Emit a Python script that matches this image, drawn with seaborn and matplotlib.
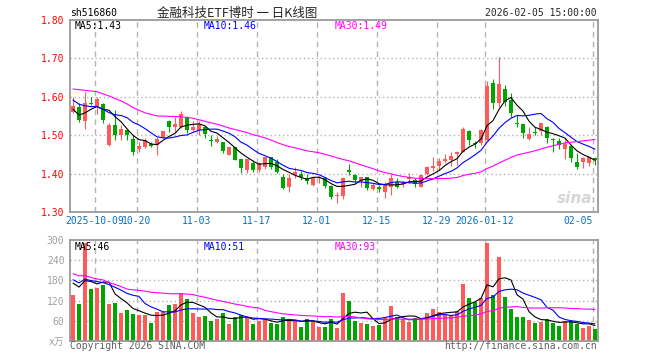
import matplotlib
matplotlib.use("Agg")
import matplotlib.pyplot as plt
import numpy as np
import pandas as pd
import seaborn as sns

# daily OHLC, 2025-09-25 .. 2026-02-05 (88 sessions)
open_ = [1.561, 1.573, 1.537, 1.584, 1.577, 1.581, 1.474, 1.527, 1.500, 1.513,
         1.490, 1.463, 1.470, 1.476, 1.474, 1.494, 1.537, 1.522, 1.522, 1.547,
         1.513, 1.513, 1.522, 1.488, 1.483, 1.481, 1.449, 1.469, 1.437, 1.409,
         1.427, 1.409, 1.416, 1.442, 1.431, 1.392, 1.366, 1.396, 1.399, 1.389,
         1.370, 1.388, 1.388, 1.369, 1.341, 1.342, 1.409, 1.396, 1.382, 1.390,
         1.359, 1.364, 1.353, 1.364, 1.379, 1.373, 1.385, 1.383, 1.366, 1.399,
         1.414, 1.420, 1.434, 1.435, 1.451, 1.457, 1.511, 1.479, 1.479, 1.488,
         1.637, 1.583, 1.620, 1.592, 1.532, 1.530, 1.489, 1.509, 1.512, 1.521,
         1.489, 1.486, 1.464, 1.472, 1.429, 1.429, 1.427, 1.440]
high = [1.599, 1.583, 1.612, 1.600, 1.599, 1.583, 1.531, 1.566, 1.527, 1.517,
        1.500, 1.483, 1.494, 1.483, 1.496, 1.512, 1.540, 1.548, 1.564, 1.550,
        1.537, 1.536, 1.524, 1.500, 1.499, 1.483, 1.469, 1.469, 1.439, 1.438,
        1.435, 1.431, 1.444, 1.443, 1.438, 1.398, 1.400, 1.416, 1.407, 1.399,
        1.392, 1.395, 1.390, 1.370, 1.351, 1.392, 1.425, 1.399, 1.392, 1.392,
        1.375, 1.370, 1.379, 1.398, 1.388, 1.381, 1.401, 1.388, 1.396, 1.420,
        1.444, 1.440, 1.451, 1.457, 1.458, 1.522, 1.514, 1.485, 1.516, 1.641,
        1.646, 1.703, 1.632, 1.609, 1.553, 1.530, 1.521, 1.522, 1.533, 1.524,
        1.494, 1.494, 1.492, 1.475, 1.453, 1.443, 1.443, 1.444]
low = [1.557, 1.534, 1.517, 1.578, 1.555, 1.533, 1.472, 1.488, 1.488, 1.488,
       1.449, 1.457, 1.466, 1.469, 1.448, 1.492, 1.509, 1.509, 1.520, 1.507,
       1.512, 1.500, 1.494, 1.472, 1.479, 1.453, 1.448, 1.435, 1.401, 1.401,
       1.405, 1.403, 1.413, 1.412, 1.401, 1.360, 1.351, 1.389, 1.383, 1.373,
       1.369, 1.375, 1.363, 1.334, 1.323, 1.333, 1.396, 1.377, 1.366, 1.357,
       1.357, 1.351, 1.337, 1.343, 1.363, 1.364, 1.375, 1.364, 1.364, 1.396,
       1.408, 1.409, 1.427, 1.420, 1.422, 1.455, 1.475, 1.467, 1.475, 1.486,
       1.567, 1.574, 1.577, 1.548, 1.521, 1.492, 1.488, 1.500, 1.500, 1.479,
       1.455, 1.463, 1.438, 1.431, 1.412, 1.414, 1.420, 1.422]
close = [1.577, 1.539, 1.583, 1.582, 1.593, 1.540, 1.527, 1.500, 1.516, 1.500,
         1.455, 1.471, 1.488, 1.472, 1.490, 1.511, 1.522, 1.529, 1.555, 1.513,
         1.522, 1.529, 1.503, 1.484, 1.490, 1.460, 1.468, 1.435, 1.414, 1.437,
         1.409, 1.427, 1.442, 1.418, 1.405, 1.363, 1.389, 1.403, 1.390, 1.381,
         1.388, 1.392, 1.369, 1.340, 1.344, 1.389, 1.405, 1.383, 1.392, 1.363,
         1.370, 1.360, 1.370, 1.389, 1.366, 1.379, 1.390, 1.372, 1.396, 1.418,
         1.420, 1.433, 1.438, 1.446, 1.457, 1.516, 1.488, 1.476, 1.514, 1.629,
         1.583, 1.633, 1.587, 1.559, 1.528, 1.507, 1.502, 1.507, 1.531, 1.492,
         1.488, 1.475, 1.477, 1.440, 1.416, 1.440, 1.442, 1.435]
# volume, x万
volume = [138, 111, 290, 153, 156, 165, 111, 114, 84, 93,
          81, 78, 78, 54, 87, 87, 108, 111, 144, 126,
          84, 72, 75, 60, 66, 84, 51, 72, 78, 72,
          51, 60, 63, 54, 51, 72, 66, 60, 42, 66,
          63, 42, 42, 66, 38, 144, 120, 60, 54, 51,
          45, 48, 72, 105, 72, 66, 57, 69, 69, 84,
          96, 87, 81, 78, 90, 168, 129, 117, 129, 291,
          138, 249, 132, 96, 72, 72, 63, 54, 57, 66,
          54, 45, 60, 60, 51, 39, 45, 36]
# sessions before the window, only feeding the moving averages
pre_close = [1.590, 1.636, 1.635, 1.646, 1.705, 1.692, 1.695, 1.711, 1.740, 1.730,
             1.680, 1.698, 1.592, 1.610, 1.526, 1.537, 1.544, 1.570, 1.573, 1.582,
             1.650, 1.623, 1.604, 1.590, 1.610, 1.617, 1.555, 1.534, 1.557]
pre_volume = [310, 260, 330, 280, 250, 340, 290, 270, 318, 150,
              128, 142, 160, 118, 135, 147, 125, 140, 152, 135,
              205, 178, 196, 185, 196, 170, 195, 165, 192]

tick_idx = [4, 11, 21, 31, 41, 51, 61, 69, 87]
tick_labels = ["2025-10-09", "10-20", "11-03", "11-17", "12-01", "12-15",
               "12-29", "2026-01-12", "02-05"]
price_ticks = [1.30, 1.40, 1.50, 1.60, 1.70, 1.80]
vol_ticks = [0, 60, 120, 180, 240, 300]

RED = "#ff5a5a"
GREEN = "#00a600"
GRID = "#b4b4b4"
FRAME = "#9a9a9a"
MA_COLORS = {5: "black", 10: "#0000ff", 30: "#ff00ff"}

sns.set_style("white")
plt.rcParams["font.family"] = ["DejaVu Sans Mono", "Noto Sans CJK SC"]

n = len(close)
idx = np.arange(n)
o = np.array(open_)
c = np.array(close)
up = c >= o
colors = np.where(up, RED, GREEN)

ma_price = {k: pd.Series(pre_close + close).rolling(k).mean().iloc[len(pre_close):].values
            for k in (5, 10, 30)}
ma_vol = {k: pd.Series(pre_volume + volume).rolling(k).mean().iloc[len(pre_volume):].values
          for k in (5, 10, 30)}

fig = plt.figure(figsize=(6.6, 3.6), dpi=100)
ax = fig.add_axes([70 / 660, 1 - 212 / 360, 528 / 660, 192 / 360])
axv = fig.add_axes([70 / 660, 1 - 341 / 360, 528 / 660, 101 / 360])

for a in (ax, axv):
    for s in a.spines.values():
        s.set_visible(True)
        s.set_color(FRAME)
        s.set_linewidth(1.3)
    a.set_xlim(-0.5, n - 0.5)
    for t in tick_idx:
        a.axvline(t - 0.33, color=GRID, lw=1, ls=(0, (4, 3)), zorder=0)
    a.tick_params(length=0)

# price panel
for p in price_ticks[1:-1]:
    ax.axhline(p, color=GRID, lw=1, ls=(0, (1, 2)), zorder=0)
ax.vlines(idx, low, high, colors=colors, lw=0.8, zorder=2)
body = np.maximum(np.abs(c - o), 0.0015)
ax.bar(idx, body, bottom=np.minimum(o, c), width=0.8, color=colors, lw=0, zorder=3)
for k in (5, 10, 30):
    sns.lineplot(x=idx, y=ma_price[k], color=MA_COLORS[k], lw=0.8, ax=ax, zorder=4)
ax.set_ylim(1.30, 1.80)
ax.set_yticks(price_ticks)
ax.set_yticklabels([f"{p:.2f}" for p in price_ticks], color="#ff0000", fontsize=7)
ax.set_xticks([t - 0.33 for t in tick_idx])
ax.set_xticklabels(tick_labels, color="#0a6fc2", fontsize=7)
ax.get_xticklabels()[-1].set_ha("right")
ax.tick_params(axis="x", pad=3)
ax.tick_params(axis="y", pad=4)
ax.set_xlabel("")
ax.set_ylabel("")

lx = [5 / 528, 134 / 528, 265 / 528]
ax.text(lx[0], 0.97, f"MA5:{ma_price[5][-1]:.2f}", transform=ax.transAxes,
        color=MA_COLORS[5], fontsize=7, va="center")
ax.text(lx[1], 0.97, f"MA10:{ma_price[10][-1]:.2f}", transform=ax.transAxes,
        color=MA_COLORS[10], fontsize=7, va="center")
ax.text(lx[2], 0.97, f"MA30:{ma_price[30][-1]:.2f}", transform=ax.transAxes,
        color=MA_COLORS[30], fontsize=7, va="center")
ax.text(0.99, 0.07, "sina", transform=ax.transAxes, ha="right", va="center",
        color="#d6d6d6", fontsize=11, style="italic", weight="bold",
        family="DejaVu Sans", zorder=1)

# volume panel
for v in vol_ticks[1:-1]:
    axv.axhline(v, color=GRID, lw=1, ls=(0, (1, 2)), zorder=0)
vdf = pd.DataFrame({"idx": idx, "vol": volume, "dir": np.where(up, "up", "down")})
sns.barplot(data=vdf, x="idx", y="vol", hue="dir", palette={"up": RED, "down": GREEN},
            native_scale=True, width=0.8, dodge=False, saturation=1, linewidth=0,
            legend=False, ax=axv, zorder=2)
for k in (5, 10, 30):
    sns.lineplot(x=idx, y=ma_vol[k], color=MA_COLORS[k], lw=0.8, ax=axv, zorder=4)
axv.set_xlim(-0.5, n - 0.5)
axv.set_ylim(0, 300)
axv.set_yticks(vol_ticks)
axv.set_yticklabels(["x万"] + [str(v) for v in vol_ticks[1:]], color="#a0a0a0", fontsize=7)
axv.set_xticks([])
axv.tick_params(axis="y", pad=4)
axv.set_xlabel("")
axv.set_ylabel("")
axv.text(lx[0], 0.93, f"MA5:{int(ma_vol[5][-1])}", transform=axv.transAxes,
         color=MA_COLORS[5], fontsize=7, va="center")
axv.text(lx[1], 0.93, f"MA10:{int(ma_vol[10][-1])}", transform=axv.transAxes,
         color=MA_COLORS[10], fontsize=7, va="center")
axv.text(lx[2], 0.93, f"MA30:{int(ma_vol[30][-1])}", transform=axv.transAxes,
         color=MA_COLORS[30], fontsize=7, va="center")

# header and footer
fig.text(70 / 660, 1 - 13 / 360, "sh516860", fontsize=7, va="center", color="black")
fig.text(237 / 660, 1 - 13 / 360, "金融科技ETF博时 一 日K线图", fontsize=9,
         va="center", ha="center", family=["Noto Sans CJK SC", "DejaVu Sans"])
fig.text(597 / 660, 1 - 13 / 360, "2026-02-05 15:00:00", fontsize=7, va="center", ha="right")
fig.text(70 / 660, 1 - 346 / 360, "Copyright 2026 SINA.COM", fontsize=7, va="center",
         color="#606060")
fig.text(597 / 660, 1 - 346 / 360, "http://finance.sina.com.cn", fontsize=7, va="center",
         ha="right", color="#606060")

fig.savefig("out.png", dpi=100)
